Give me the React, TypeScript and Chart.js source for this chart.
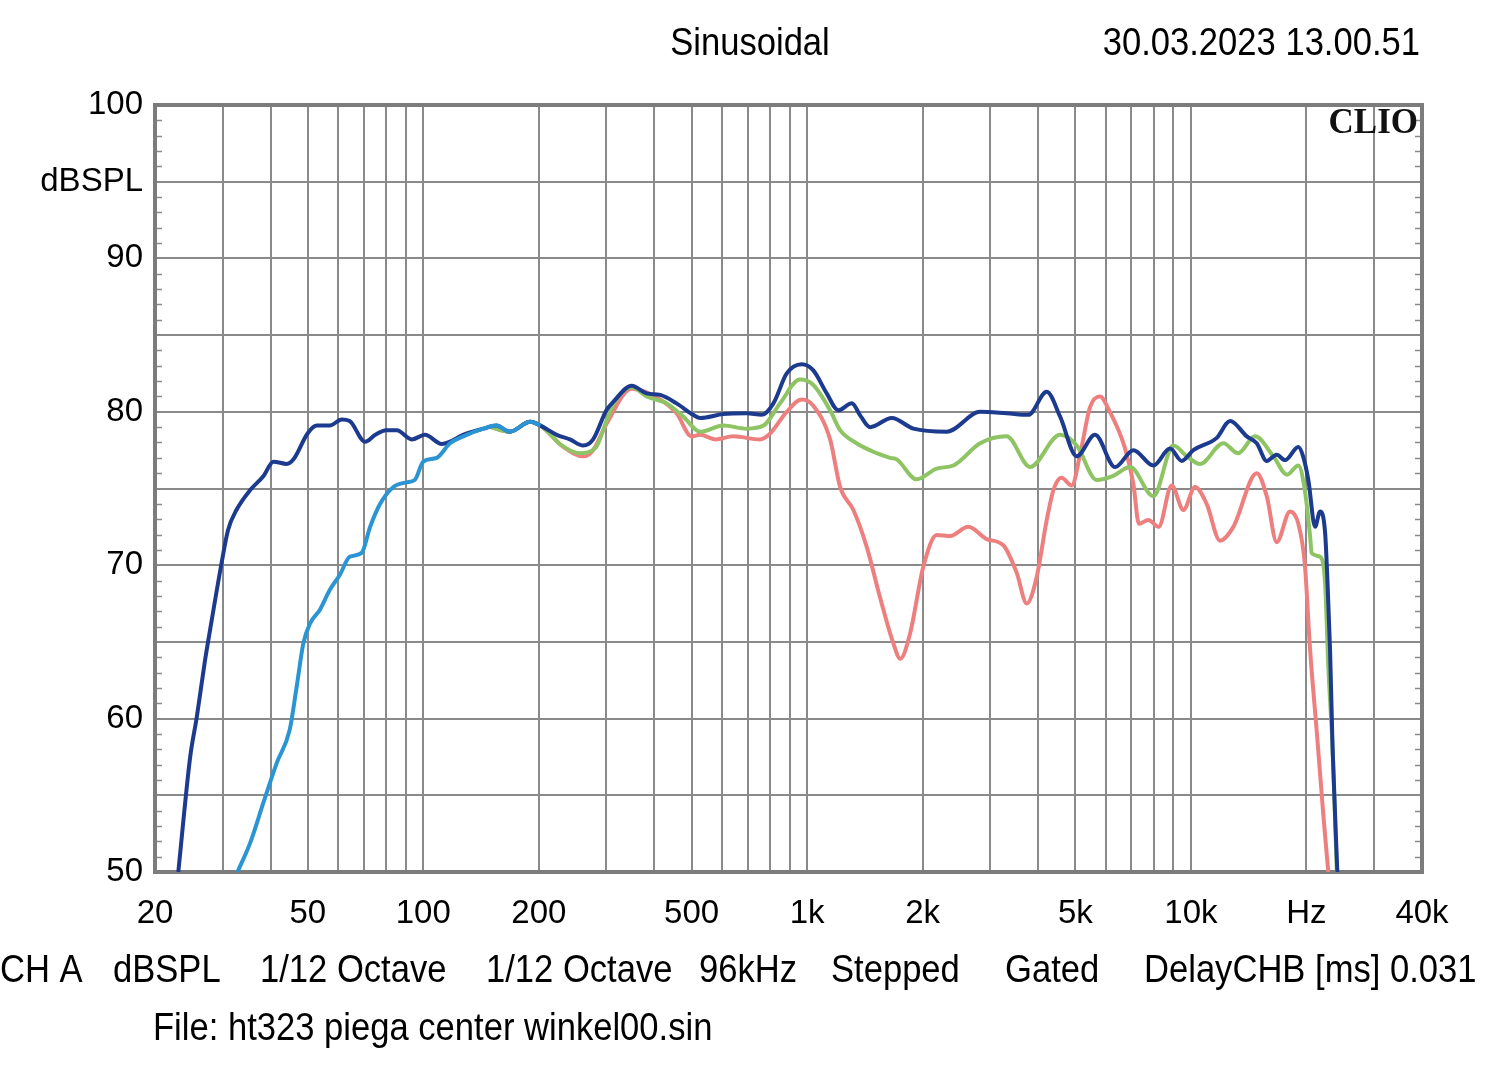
import React, { useEffect, useRef } from "react";
import { Chart, registerables } from "chart.js";

Chart.register(...registerables);

// ---- data ----
const navyFreq = [23.0, 24.7, 25.7, 27.0, 28.1, 29.7, 31.0, 32.6, 35.4, 38.3, 40.7, 44.1, 45.9, 50, 52.8, 57.1, 61.3, 64.3, 70.5, 75, 80, 85.3, 93.3, 101, 111.7, 117.4, 127, 143.4, 155, 168, 190, 202, 222.7, 241, 261, 277, 300, 313, 349, 382, 414, 457, 505, 527, 605, 696, 762, 817, 885, 968, 1038, 1125, 1206, 1307, 1380, 1459, 1662, 1892, 2312, 2824, 3311, 3770, 4211, 4560, 5041, 5625, 6345, 7081, 7984, 8825, 9464, 10147, 11677, 12650, 13980, 14841, 15760, 16730, 17590, 19050, 19600, 20230, 21060, 21700, 22370, 22700, 23040, 23400, 24070];
const navyDb = [50, 57.5, 60.1, 63.8, 66.4, 69.9, 72.3, 73.6, 74.9, 75.8, 76.75, 76.6, 76.9, 78.6, 79.1, 79.1, 79.5, 79.4, 78.05, 78.5, 78.8, 78.8, 78.2, 78.5, 77.9, 78.05, 78.5, 78.9, 79.1, 78.7, 79.35, 79.1, 78.5, 78.2, 77.8, 78.2, 80.1, 80.66, 81.7, 81.2, 81.1, 80.55, 79.8, 79.6, 79.85, 79.9, 79.8, 80.55, 82.5, 83.1, 82.7, 81.2, 80.1, 80.55, 79.7, 79.0, 79.6, 78.9, 78.7, 80.0, 79.9, 79.8, 81.3, 79.7, 77.1, 78.5, 76.4, 77.5, 76.5, 77.6, 76.8, 77.5, 78.3, 79.4, 78.4, 77.95, 76.8, 77.2, 76.85, 77.7, 77.1, 75.55, 72.5, 73.5, 72.1, 68.8, 64.5, 58.0, 50.0];

const cyanFreq = [32.8, 35.4, 38.3, 41.5, 44.9, 46.8, 48.7, 50.7, 53.8, 57.1, 60.7, 64.3, 69.1, 72.7, 77.2, 83.6, 90.5, 95, 100, 108.4, 117.4, 127.1, 143.4, 155, 168, 190, 202];
const cyanDb = [50, 51.9, 54.5, 57.1, 59.3, 62.1, 64.9, 66.2, 67.1, 68.4, 69.4, 70.55, 70.8, 72.5, 74.0, 75.1, 75.4, 75.55, 76.75, 77.0, 77.95, 78.4, 78.9, 79.1, 78.7, 79.35, 79.1];

const greenFreq = [150, 168, 190, 202, 215, 227, 256, 282, 300, 313, 349, 382, 431, 475, 527, 605, 696, 770, 850, 958, 1038, 1148, 1219, 1345, 1519, 1645, 1712, 1930, 2177, 2405, 2824, 3311, 3810, 4560, 5041, 5684, 6255, 6942, 7984, 9001, 9760, 10560, 12150, 13270, 14690, 16400, 17800, 19050, 19800, 20440, 20630, 21700, 22370, 22800, 23400, 24000];
const greenDb = [79.0, 78.7, 79.35, 79.1, 78.5, 77.9, 77.3, 77.7, 79.4, 80.5, 81.6, 81.0, 80.55, 79.7, 78.7, 79.1, 78.9, 79.1, 80.55, 82.1, 81.75, 80.1, 78.8, 77.95, 77.3, 77.0, 76.9, 75.6, 76.3, 76.5, 77.95, 78.4, 76.4, 78.5, 77.8, 75.55, 75.8, 76.4, 74.5, 77.8, 77.1, 76.6, 77.95, 77.3, 78.4, 77.1, 75.9, 76.5, 74.9, 71.9, 70.8, 70.55, 68.8, 63.4, 58.0, 50.0];

const redFreq = [150, 168, 190, 202, 232, 261, 277, 300, 349, 414, 457, 500, 527, 577, 642, 754, 795, 885, 968, 1038, 1148, 1219, 1320, 1430, 1549, 1678, 1749, 1855, 2008, 2177, 2358, 2630, 2937, 3245, 3517, 3734, 3966, 4211, 4382, 4600, 4890, 5170, 5460, 5797, 6120, 6720, 7081, 7320, 7744, 8240, 8910, 9560, 10250, 10990, 11910, 12900, 14840, 15760, 16730, 18120, 19050, 19800, 20440, 21300, 22150, 22800];
const redDb = [79.0, 78.7, 79.35, 79.1, 77.7, 77.1, 77.5, 79.2, 81.5, 80.8, 79.9, 78.4, 78.5, 78.2, 78.4, 78.2, 78.5, 80.0, 80.8, 80.4, 78.2, 75.1, 73.6, 71.2, 67.9, 64.9, 63.9, 65.55, 69.9, 71.97, 71.9, 72.5, 71.7, 71.3, 69.5, 67.5, 69.25, 72.95, 74.9, 75.7, 75.2, 77.5, 80.3, 81.0, 80.1, 77.7, 75.3, 72.7, 72.95, 72.5, 75.2, 73.6, 75.1, 74.0, 71.6, 72.5, 76.0, 74.5, 71.5, 73.5, 72.7, 70.1, 64.5, 59.0, 53.6, 50.0];

const xGridValues = [20, 30, 40, 50, 60, 70, 80, 90, 100, 200, 300, 400, 500, 600, 700, 800, 900, 1000, 2000, 3000, 4000, 5000, 6000, 7000, 8000, 9000, 10000, 20000, 30000, 40000];
const xLabelValues = [20, 50, 100, 200, 500, 1000, 2000, 5000, 10000, 20000, 40000];
const xLabelTexts = ["20", "50", "100", "200", "500", "1k", "2k", "5k", "10k", "Hz", "40k"];
const yLabelValues = [100, 95, 90, 80, 70, 60, 50];
const yLabelTexts = ["100", "dBSPL", "90", "80", "70", "60", "50"];

const titleText = "Sinusoidal";
const dateText = "30.03.2023 13.00.51";
const infoWords = ["CH A", "dBSPL", "1/12 Octave", "1/12 Octave", "96kHz", "Stepped", "Gated", "DelayCHB [ms] 0.031"];
const fileText = "File: ht323 piega center winkel00.sin";

const toPoints = (f: number[], d: number[]) => f.map((x, i) => ({ x, y: d[i] }));

const GRID = "#8a8a8a";
const FONT = '"Liberation Sans", Arial, sans-serif';

function drawCondensed(ctx: CanvasRenderingContext2D, text: string, x: number, y: number, align: CanvasTextAlign) {
  ctx.save();
  ctx.translate(x, y);
  ctx.scale(0.91, 1);
  ctx.font = `38px ${FONT}`;
  ctx.fillStyle = "#000";
  ctx.textAlign = align;
  ctx.textBaseline = "middle";
  ctx.fillText(text, 0, 0);
  ctx.restore();
}

const decorPlugin = {
  id: "decor",
  beforeDatasetsDraw(chart: any) {
    const { ctx, chartArea } = chart;
    const ys = chart.scales.y;
    ctx.save();
    ctx.strokeStyle = GRID;
    ctx.lineWidth = 1.5;
    for (let v = 51; v < 100; v++) {
      if (v % 5 === 0) continue;
      const py = Math.round(ys.getPixelForValue(v)) + 0.5;
      ctx.beginPath();
      ctx.moveTo(chartArea.left, py);
      ctx.lineTo(chartArea.left + 7, py);
      ctx.moveTo(chartArea.right - 7, py);
      ctx.lineTo(chartArea.right, py);
      ctx.stroke();
    }
    ctx.lineWidth = 4;
    ctx.strokeStyle = "#7c7c7c";
    ctx.strokeRect(chartArea.left, chartArea.top, chartArea.right - chartArea.left, chartArea.bottom - chartArea.top);
    ctx.restore();
  },
  afterDraw(chart: any) {
    const { ctx, chartArea } = chart;
    drawCondensed(ctx, titleText, 750, 45, "center");
    drawCondensed(ctx, dateText, 1420, 45, "right");
    const wordX = [0, 113, 260, 486, 699, 831, 1005, 1144];
    infoWords.forEach((w, i) => drawCondensed(ctx, w, wordX[i], 972, "left"));
    drawCondensed(ctx, fileText, 153, 1030, "left");
    ctx.save();
    ctx.font = 'bold 35px "Liberation Serif", "Times New Roman", serif';
    ctx.fillStyle = "#111";
    ctx.textAlign = "right";
    ctx.textBaseline = "middle";
    ctx.fillText("CLIO", chartArea.right - 4, chartArea.top + 19);
    ctx.restore();
  },
};

export default function App() {
  const ref = useRef<HTMLCanvasElement | null>(null);
  useEffect(() => {
    document.body.style.margin = "0";
    const canvas = ref.current!;
    const lw = 4;
    const chart = new Chart(canvas, {
      type: "line",
      data: {
        datasets: [
          { label: "cyan", data: toPoints(cyanFreq, cyanDb), borderColor: "#2a95d2", borderWidth: lw, pointRadius: 0, cubicInterpolationMode: "monotone", fill: false },
          { label: "navy", data: toPoints(navyFreq, navyDb), borderColor: "#1d3b8e", borderWidth: lw, pointRadius: 0, cubicInterpolationMode: "monotone", fill: false },
          { label: "green", data: toPoints(greenFreq, greenDb), borderColor: "#8ec463", borderWidth: lw, pointRadius: 0, cubicInterpolationMode: "monotone", fill: false },
          { label: "red", data: toPoints(redFreq, redDb), borderColor: "#ee7f7f", borderWidth: lw, pointRadius: 0, cubicInterpolationMode: "monotone", fill: false },
        ],
      },
      options: {
        animation: false,
        responsive: false,
        maintainAspectRatio: false,
        devicePixelRatio: 1,
        layout: { padding: { top: 105, right: 78, left: 0, bottom: 0 } },
        plugins: { legend: { display: false }, tooltip: { enabled: false }, title: { display: false } },
        scales: {
          x: {
            type: "logarithmic",
            min: 20,
            max: 40000,
            afterBuildTicks: (axis: any) => {
              axis.ticks = xGridValues.map((v) => ({ value: v }));
            },
            afterFit: (axis: any) => {
              axis.height = 1074 - 872;
            },
            grid: { color: GRID, lineWidth: 2, drawTicks: false },
            border: { display: false },
            ticks: {
              autoSkip: false,
              maxRotation: 0,
              padding: 22,
              color: "#000",
              font: { family: FONT, size: 33 },
              callback: (value: any) => {
                const i = xLabelValues.indexOf(Number(value));
                return i >= 0 ? xLabelTexts[i] : "";
              },
            },
          },
          y: {
            type: "linear",
            min: 50,
            max: 100,
            afterBuildTicks: (axis: any) => {
              const t = [];
              for (let v = 50; v <= 100; v += 5) t.push({ value: v });
              axis.ticks = t;
            },
            afterFit: (axis: any) => {
              axis.width = 155;
            },
            grid: { color: GRID, lineWidth: 2, drawTicks: false },
            border: { display: false },
            ticks: {
              autoSkip: false,
              padding: 12,
              color: "#000",
              font: { family: FONT, size: 33 },
              callback: (value: any) => {
                const i = yLabelValues.indexOf(Number(value));
                return i >= 0 ? yLabelTexts[i] : "";
              },
            },
          },
        },
      },
      plugins: [decorPlugin],
    });
    return () => chart.destroy();
  }, []);
  return (
    <div style={{ width: 1500, height: 1074, background: "#fff" }}>
      <canvas ref={ref} width={1500} height={1074} />
    </div>
  );
}
